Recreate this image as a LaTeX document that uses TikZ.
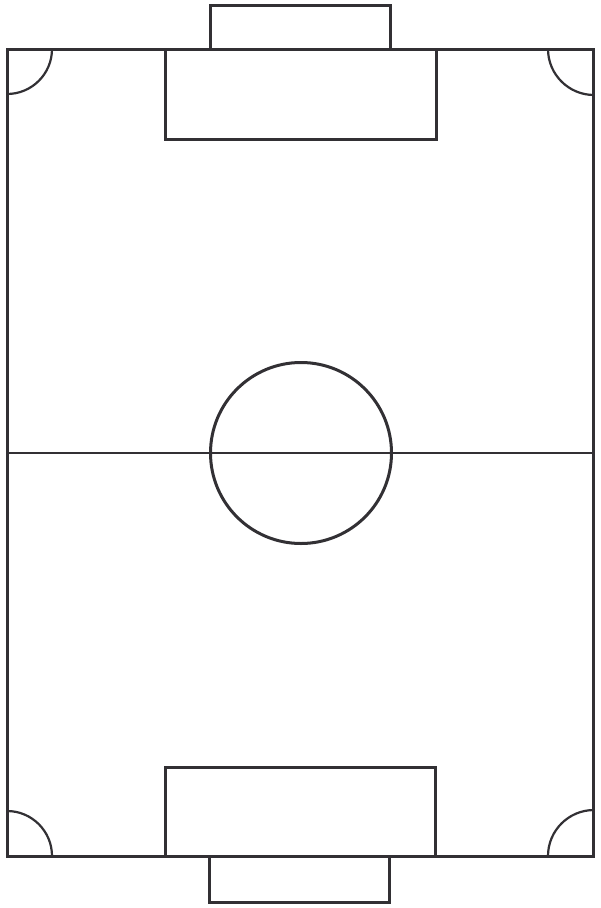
\documentclass[tikz,border=0pt]{standalone}
\begin{document}
\begin{tikzpicture}[x=1pt,y=-1pt,
  pitchline/.style={draw=pitchgray,line width=3pt,line join=miter},
  thinline/.style={draw=pitchgray,line width=2.2pt}]
\definecolor{pitchgray}{RGB}{50,48,52}
\useasboundingbox (0,0) rectangle (600,908);
\fill[white] (0,0) rectangle (600,908);
% goals
\draw[pitchline] (210,49) -- (210,5) -- (390,5) -- (390,49);
\draw[pitchline] (209,856) -- (209,902) -- (389,902) -- (389,856);
% outer boundary
\draw[pitchline] (7,49) rectangle (593,856);
% penalty boxes
\draw[pitchline] (165,49) -- (165,139) -- (436,139) -- (436,49);
\draw[pitchline] (165,856) -- (165,767) -- (435,767) -- (435,856);
% halfway line and centre circle
\draw[thinline] (7,453) -- (593,453);
\draw[pitchline] (301,453) circle[radius=90.5];
% corner arcs
\draw[thinline] (52,49) arc[start angle=0,end angle=90,radius=45];
\draw[thinline] (548,49) arc[start angle=180,end angle=90,radius=46];
\draw[thinline] (52,856) arc[start angle=0,end angle=-90,radius=45];
\draw[thinline] (548,856) arc[start angle=180,end angle=270,radius=46];
\end{tikzpicture}
\end{document}
